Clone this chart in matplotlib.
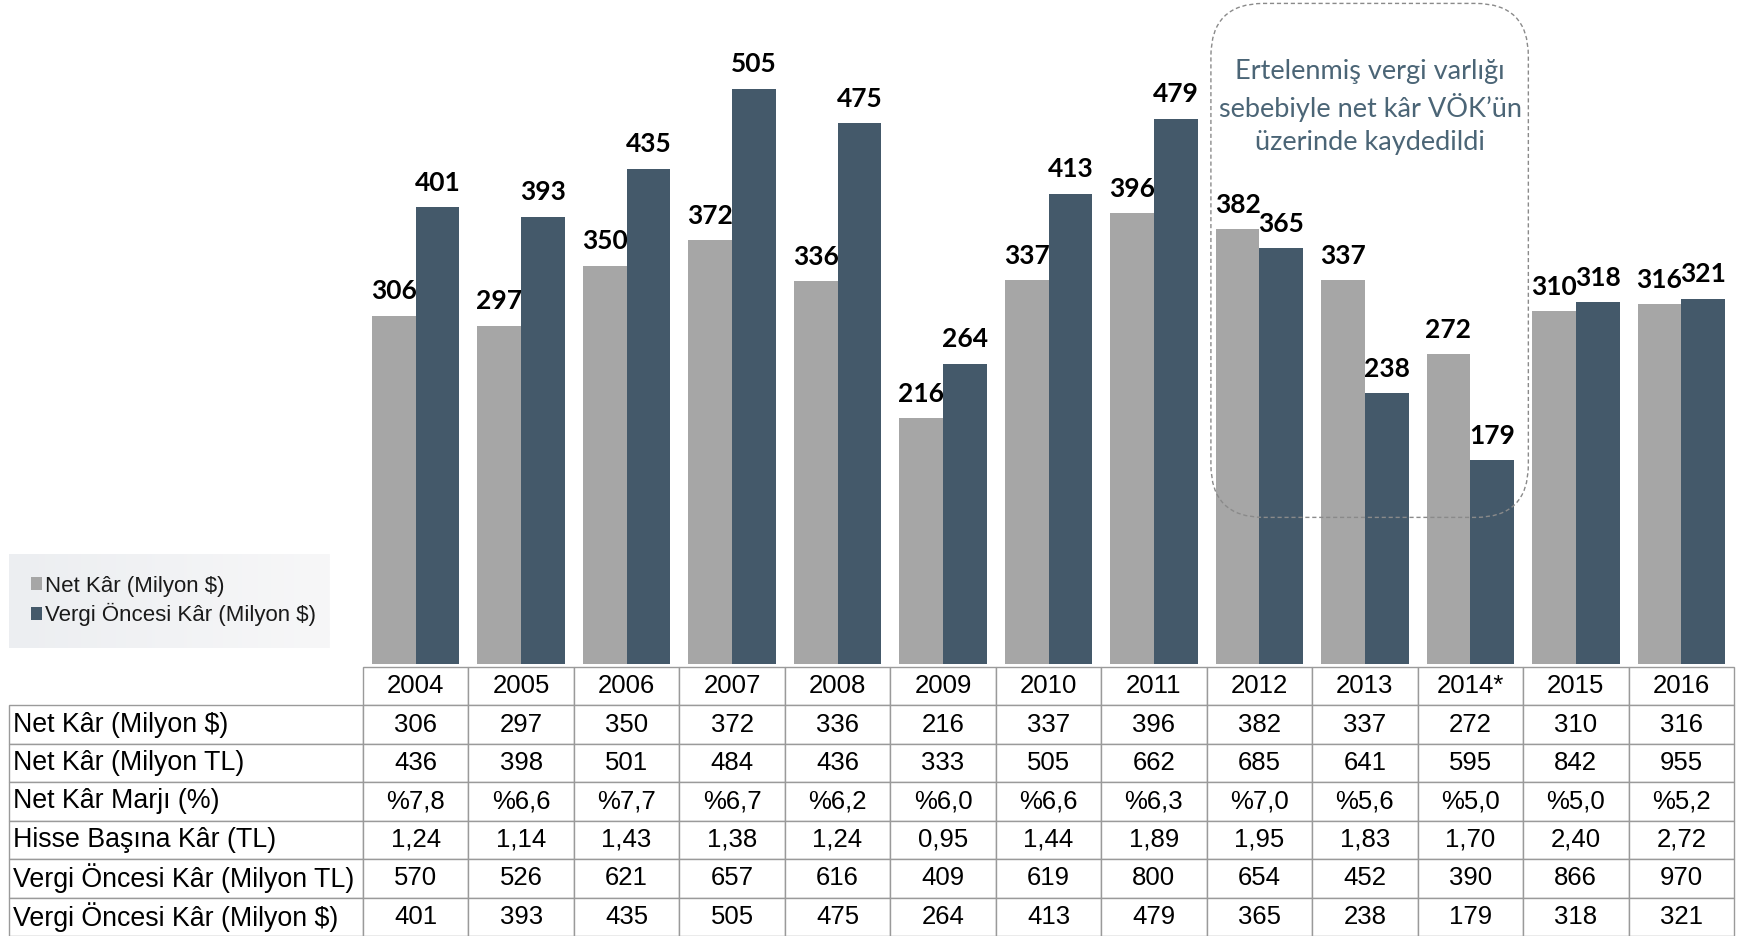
import matplotlib
matplotlib.use("Agg")
import matplotlib.pyplot as plt
import numpy as np
from matplotlib.patches import FancyBboxPatch
from matplotlib.colors import LinearSegmentedColormap
from matplotlib.table import Table

# veriler
years = ["2004", "2005", "2006", "2007", "2008", "2009", "2010",
         "2011", "2012", "2013", "2014*", "2015", "2016"]
net_usd = [306, 297, 350, 372, 336, 216, 337, 396, 382, 337, 272, 310, 316]
net_tl = [436, 398, 501, 484, 436, 333, 505, 662, 685, 641, 595, 842, 955]
margin = [7.8, 6.6, 7.7, 6.7, 6.2, 6.0, 6.6, 6.3, 7.0, 5.6, 5.0, 5.0, 5.2]
eps = [1.24, 1.14, 1.43, 1.38, 1.24, 0.95, 1.44, 1.89, 1.95, 1.83, 1.70, 2.40, 2.72]
pretax_tl = [570, 526, 621, 657, 616, 409, 619, 800, 654, 452, 390, 866, 970]
pretax_usd = [401, 393, 435, 505, 475, 264, 413, 479, 365, 238, 179, 318, 321]

row_labels = ["Net Kâr (Milyon $)", "Net Kâr (Milyon TL)", "Net Kâr Marjı (%)",
              "Hisse Başına Kâr (TL)", "Vergi Öncesi Kâr (Milyon TL)",
              "Vergi Öncesi Kâr (Milyon $)"]
legend_labels = ["Net Kâr (Milyon $)", "Vergi Öncesi Kâr (Milyon $)"]
note = "Ertelenmiş vergi varlığı\nsebebiyle net kâr VÖK’ün\nüzerinde kaydedildi"

GRAY = "#a6a6a6"
DARK = "#44596a"

W, H = 1742, 936
fig = plt.figure(figsize=(W / 100, H / 100), dpi=100)

# lejant arka planı (hafif degrade)
bg = fig.add_axes([9 / W, 1 - 648 / H, 320 / W, 94 / H], zorder=0)
grad = LinearSegmentedColormap.from_list("bg", ["#eceef1", "#f7f7f8"])
bg.imshow(np.linspace(0, 1, 256)[None, :], cmap=grad, aspect="auto")
bg.axis("off")

# grafik alanı
base = 664.4
ax = fig.add_axes([363 / W, 1 - base / H, 1371 / W, base / H])
ymax = 583
ax.set_xlim(-0.5, 12.5)
ax.set_ylim(0, ymax)
ax.axis("off")

x = np.arange(len(years))
w = 0.415
b1 = ax.bar(x - w / 2, net_usd, w, color=GRAY, label=legend_labels[0])
b2 = ax.bar(x + w / 2, pretax_usd, w, color=DARK, label=legend_labels[1])
for b in (b1, b2):
    ax.bar_label(b, padding=9, fontsize=19, fontweight="bold",
                 family="Lato", color="black")

# kesikli kutu ve not
px_x = 1371 / 13
px_y = base / ymax
box = FancyBboxPatch((7.54, 129), 3.01, 451,
                     boxstyle="round,pad=0,rounding_size=0.5",
                     mutation_aspect=px_x / px_y,
                     fc="none", ec="#8a8a8a", lw=1, ls=(0, (3, 2)))
ax.add_patch(box)
ax.text(9.05, 489, note, ha="center", va="center", fontsize=19.5,
        color="#4b6576", family="Lato", linespacing=1.38)

# lejant
leg = fig.legend(handles=[b1, b2], loc="center left",
                 bbox_to_anchor=(31 / W, 1 - 601 / H), frameon=False,
                 prop={"family": "Liberation Sans", "size": 16},
                 handlelength=0.5, handleheight=0.5, handletextpad=0.15,
                 labelspacing=0.3, borderpad=0, borderaxespad=0)
for t in leg.get_texts():
    t.set_color("#1a1a1a")

# tablo
tax = fig.add_axes([9 / W, 0, 1725 / W, (H - 667) / H])
tax.axis("off")
tbl = Table(tax, bbox=[0, 0, 1, 1])
label_w, col_w = 354, 105.5
edge = "#9a9a9a"

rows = [
    [str(v) for v in net_usd],
    [str(v) for v in net_tl],
    [f"%{v:.1f}".replace(".", ",") for v in margin],
    [f"{v:.2f}".replace(".", ",") for v in eps],
    [str(v) for v in pretax_tl],
    [str(v) for v in pretax_usd],
]

c = tbl.add_cell(0, 0, width=label_w, height=1, text="")
c.visible_edges = ""
for j, yr in enumerate(years):
    tbl.add_cell(0, j + 1, width=col_w, height=1, text=yr, loc="center")
for i, (lab, vals) in enumerate(zip(row_labels, rows)):
    cl = tbl.add_cell(i + 1, 0, width=label_w, height=1, text=lab, loc="left")
    cl.PAD = 0.011
    for j, v in enumerate(vals):
        tbl.add_cell(i + 1, j + 1, width=col_w, height=1, text=v, loc="center")

tbl.auto_set_font_size(False)
tbl.set_fontsize(18.5)
for (r, col), cell in tbl.get_celld().items():
    cell.set_edgecolor(edge)
    cell.set_linewidth(1)
    cell.get_text().set_fontfamily("Liberation Sans")
    cell.get_text().set_color("black")
    if col == 0:
        cell.get_text().set_fontsize(19.3)
tax.add_table(tbl)

fig.savefig("out.png", dpi=100)
